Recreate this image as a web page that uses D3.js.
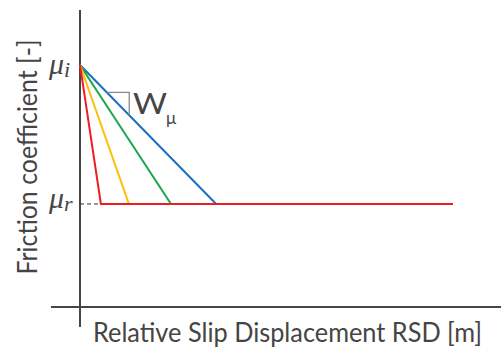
<!DOCTYPE html>
<html>
<head>
<meta charset="utf-8">
<script src="https://cdn.jsdelivr.net/npm/d3@7"></script>
<style>
  html, body { margin: 0; padding: 0; background: #fff; }
  svg { display: block; }
</style>
</head>
<body>
<svg id="chart" width="501" height="351"></svg>
<script>
// Friction levels (dimensionless) and slip extent
const muI = 0.815;          // initial friction coefficient
const muR = 0.347;          // residual friction coefficient
const rsdMax = 10;          // end of the residual plateau

// Slip distance at which each curve reaches the residual level
const seriesNames = ["blue", "green", "yellow", "red"];
const seriesColors = ["#1a6fc0", "#18a748", "#fdc010", "#ee1c24"];
const slipAtResidual = [3.65, 2.44, 1.31, 0.56];

const svg = d3.select("#chart");

const x = d3.scaleLinear().domain([0, 10]).range([80, 453]);
const y = d3.scaleLinear().domain([0, 1]).range([307, 10]);

const ink = "#454545";
const sans = "Lato, 'Open Sans', sans-serif";
const serif = "'Liberation Serif', 'Times New Roman', serif";

// Axes (no ticks, only the lines)
svg.append("line")
  .attr("x1", x(0)).attr("x2", x(0))
  .attr("y1", y(1)).attr("y2", 327)
  .attr("stroke", ink).attr("stroke-width", 2);
svg.append("line")
  .attr("x1", 51).attr("x2", 501)
  .attr("y1", y(0)).attr("y2", y(0))
  .attr("stroke", ink).attr("stroke-width", 2);

// Dashed guide at the residual friction level
svg.append("line")
  .attr("x1", x(0)).attr("x2", x(slipAtResidual[0]))
  .attr("y1", y(muR)).attr("y2", y(muR))
  .attr("stroke", "#333").attr("stroke-width", 1)
  .attr("stroke-dasharray", "4,3");

const line = d3.line().x(d => x(d[0])).y(d => y(d[1]));

// Weakening curves: linear drop from muI to muR, then plateau
seriesNames.forEach((name, i) => {
  const pts = [[0, muI], [slipAtResidual[i], muR]];
  if (name === "red") pts.push([rsdMax, muR]);
  svg.append("path")
    .datum(pts)
    .attr("fill", "none")
    .attr("stroke", seriesColors[i])
    .attr("stroke-width", 2)
    .attr("stroke-linejoin", "miter")
    .attr("d", line);
});

// Slope indicator on the blue curve
const sx0 = 0.72, sx1 = 1.32;
const slope = (muR - muI) / slipAtResidual[0];
const yTop = y(muI + slope * sx0);
svg.append("path")
  .attr("d", `M${x(sx0)},${yTop} H${x(sx1)} V${y(muI + slope * sx1)}`)
  .attr("fill", "none")
  .attr("stroke", "#8a8a8a")
  .attr("stroke-width", 1.3);

svg.append("text")
  .attr("x", 133).attr("y", 114)
  .attr("font-family", sans)
  .attr("font-size", 29)
  .attr("textLength", 34)
  .attr("lengthAdjust", "spacingAndGlyphs")
  .attr("fill", ink)
  .text("W");
svg.append("text")
  .attr("x", 166).attr("y", 124)
  .attr("font-family", sans)
  .attr("font-size", 17)
  .attr("fill", ink)
  .text("μ");

// Friction level labels
function muLabel(sub, yy) {
  const t = svg.append("text")
    .attr("x", 49).attr("y", yy)
    .attr("font-family", serif)
    .attr("font-style", "italic")
    .attr("font-size", 30)
    .attr("fill", ink);
  t.append("tspan").text("μ");
  t.append("tspan").attr("font-size", 22).attr("dy", 3).text(sub);
}
muLabel("i", 74);
muLabel("r", 208);

// Axis titles
svg.append("text")
  .attr("transform", `translate(37,157) rotate(-90)`)
  .attr("text-anchor", "middle")
  .attr("font-family", sans)
  .attr("font-size", 27)
  .attr("fill", ink)
  .attr("textLength", 235)
  .attr("lengthAdjust", "spacingAndGlyphs")
  .text("Friction coefficient [-]");

svg.append("text")
  .attr("x", 93).attr("y", 342)
  .attr("font-family", sans)
  .attr("font-size", 26)
  .attr("fill", ink)
  .attr("textLength", 389)
  .attr("lengthAdjust", "spacingAndGlyphs")
  .text("Relative Slip Displacement RSD [m]");
</script>
</body>
</html>
